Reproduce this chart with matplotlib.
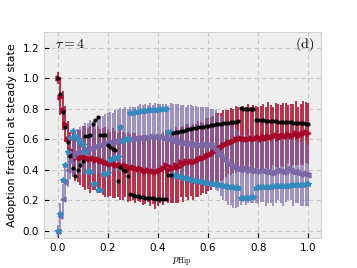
import numpy as np
import matplotlib
matplotlib.use('Agg')
import matplotlib.pyplot as plt

plt.style.use('bmh')
plt.rcParams['mathtext.fontset'] = 'cm'
plt.rcParams['grid.color'] = '#c8c8c8'
plt.rcParams['grid.linestyle'] = (0, (4, 3))
plt.rcParams['grid.linewidth'] = 0.8
plt.rcParams['axes.edgecolor'] = '#d0d0d0'

# p_Hip grid, 0.00 .. 1.00
p_hip = np.linspace(0, 1, 101)

black = [1.0, 0.90, 0.78, 0.68, 0.58, 0.49, 0.41, 0.36, 0.40, 0.43,
         0.46, 0.62, 0.62, 0.63, 0.70, 0.73, 0.745, 0.63, 0.63, 0.63,
         0.56, 0.55, 0.54, 0.53, 0.33, 0.42, 0.40, 0.39, 0.36, 0.24,
         0.235, 0.23, 0.228, 0.225, 0.22, 0.218, 0.216, 0.215, 0.213, 0.212,
         0.211, 0.21, 0.209, 0.208, 0.367, 0.367,
         0.640, 0.645, 0.649, 0.653, 0.657, 0.661, 0.665, 0.668, 0.672, 0.675,
         0.678, 0.681, 0.684, 0.687, 0.690, 0.693, 0.695, 0.698, 0.700, 0.703,
         0.705, 0.708, 0.710, 0.712, 0.715, 0.717, 0.719,
         0.805, 0.798, 0.797, 0.797, 0.798, 0.799,
         0.728, 0.727, 0.725, 0.724, 0.723, 0.722, 0.721, 0.720, 0.718, 0.717,
         0.716, 0.715, 0.714, 0.712, 0.711, 0.710, 0.709, 0.707, 0.706, 0.705,
         0.703, 0.702]

blue = [0.0, 0.11, 0.335, 0.43, 0.52, 0.61, 0.655, 0.62, 0.60, 0.585,
        0.56, 0.52, 0.39, 0.385, 0.31, 0.305, 0.27, 0.265, 0.375, 0.375,
        0.378, 0.466, 0.475, 0.48, 0.487, 0.684, 0.586, 0.60, 0.60,
        0.770, 0.775, 0.780, 0.782, 0.785, 0.787, 0.789, 0.790, 0.792, 0.793,
        0.794, 0.795, 0.796, 0.797, 0.798, 0.647, 0.645,
        0.367, 0.362, 0.357, 0.352, 0.348, 0.344, 0.340, 0.336, 0.332, 0.329,
        0.326, 0.322, 0.319, 0.316, 0.313, 0.310, 0.307, 0.304, 0.301, 0.298,
        0.295, 0.293, 0.290, 0.288, 0.285, 0.282, 0.280,
        0.215, 0.217, 0.218, 0.218, 0.219, 0.220,
        0.284, 0.285, 0.286, 0.287, 0.288, 0.289, 0.290, 0.291, 0.292, 0.293,
        0.294, 0.295, 0.296, 0.297, 0.298, 0.299, 0.300, 0.301, 0.302, 0.303,
        0.304, 0.305]

red = [1.0, 0.88, 0.79, 0.70, 0.60, 0.53, 0.50, 0.48, 0.49, 0.48,
       0.49, 0.48, 0.475, 0.47, 0.475, 0.465, 0.47, 0.46, 0.455, 0.45,
       0.445, 0.44, 0.445, 0.435, 0.43, 0.435, 0.425, 0.43, 0.42, 0.415,
       0.42, 0.41, 0.405, 0.41, 0.40, 0.395, 0.40, 0.39, 0.395, 0.385,
       0.39, 0.40, 0.41, 0.43, 0.40, 0.42, 0.41, 0.43, 0.42, 0.45,
       0.44, 0.46, 0.45, 0.46, 0.45, 0.46, 0.47, 0.475, 0.48, 0.49,
       0.50, 0.505, 0.52, 0.53, 0.545, 0.55, 0.565, 0.57, 0.58, 0.585,
       0.59, 0.60, 0.605, 0.61, 0.60, 0.605, 0.60, 0.61, 0.605, 0.61,
       0.615, 0.60, 0.62, 0.61, 0.625, 0.615, 0.62, 0.63, 0.61, 0.625,
       0.63, 0.62, 0.635, 0.625, 0.63, 0.64, 0.62, 0.635, 0.64, 0.645,
       0.64]

red_err = [0.04, 0.12, 0.13, 0.12, 0.12, 0.12, 0.14, 0.15, 0.17, 0.18,
           0.20, 0.21, 0.20, 0.22, 0.21, 0.20, 0.22, 0.21, 0.22, 0.23,
           0.22, 0.21, 0.23, 0.22, 0.21, 0.23, 0.22, 0.21, 0.23, 0.22,
           0.22, 0.23, 0.21, 0.22, 0.23, 0.22, 0.21, 0.23, 0.22, 0.24,
           0.23, 0.22, 0.24, 0.23, 0.22, 0.24, 0.23, 0.25, 0.24, 0.23,
           0.25, 0.24, 0.25, 0.23, 0.25, 0.24, 0.25, 0.24, 0.23, 0.25,
           0.24, 0.24, 0.23, 0.24, 0.23, 0.22, 0.23, 0.22, 0.21, 0.22,
           0.21, 0.22, 0.21, 0.20, 0.22, 0.21, 0.23, 0.20, 0.22, 0.21,
           0.20, 0.22, 0.21, 0.20, 0.22, 0.21, 0.19, 0.21, 0.22, 0.20,
           0.21, 0.22, 0.19, 0.21, 0.20, 0.21, 0.19, 0.20, 0.21, 0.20,
           0.20]

purple = [0.0, 0.10, 0.21, 0.32, 0.40, 0.46, 0.49, 0.51, 0.52, 0.52,
          0.53, 0.535, 0.54, 0.545, 0.55, 0.555, 0.56, 0.565, 0.57, 0.575,
          0.58, 0.58, 0.585, 0.59, 0.59, 0.595, 0.60, 0.60, 0.60, 0.605,
          0.605, 0.61, 0.61, 0.61, 0.615, 0.61, 0.615, 0.62, 0.615, 0.62,
          0.615, 0.62, 0.61, 0.62, 0.60, 0.61, 0.59, 0.60, 0.58, 0.585,
          0.575, 0.57, 0.575, 0.565, 0.57, 0.56, 0.565, 0.57, 0.565, 0.57,
          0.565, 0.56, 0.55, 0.53, 0.51, 0.49, 0.47, 0.455, 0.44, 0.43,
          0.42, 0.41, 0.405, 0.40, 0.41, 0.40, 0.405, 0.395, 0.40, 0.39,
          0.395, 0.40, 0.39, 0.385, 0.39, 0.38, 0.385, 0.39, 0.40, 0.395,
          0.385, 0.39, 0.41, 0.40, 0.385, 0.39, 0.38, 0.375, 0.38, 0.37,
          0.365]

purple_err = [0.04, 0.08, 0.10, 0.10, 0.11, 0.12, 0.14, 0.15, 0.15, 0.16,
              0.16, 0.17, 0.17, 0.18, 0.17, 0.18, 0.18, 0.19, 0.18, 0.19,
              0.19, 0.20, 0.19, 0.20, 0.20, 0.21, 0.20, 0.21, 0.20, 0.21,
              0.21, 0.20, 0.21, 0.22, 0.21, 0.22, 0.21, 0.22, 0.21, 0.22,
              0.22, 0.21, 0.22, 0.21, 0.22, 0.23, 0.24, 0.23, 0.25, 0.24,
              0.25, 0.24, 0.25, 0.26, 0.25, 0.26, 0.25, 0.24, 0.25, 0.24,
              0.25, 0.24, 0.25, 0.26, 0.25, 0.26, 0.27, 0.26, 0.27, 0.26,
              0.27, 0.26, 0.25, 0.23, 0.22, 0.23, 0.22, 0.21, 0.22, 0.21,
              0.22, 0.21, 0.20, 0.22, 0.21, 0.20, 0.22, 0.21, 0.20, 0.21,
              0.22, 0.20, 0.21, 0.20, 0.22, 0.21, 0.20, 0.21, 0.22, 0.21,
              0.20]

fig = plt.figure(figsize=(3.57, 2.68), dpi=100)
ax = fig.add_axes([0.123, 0.112, 0.776, 0.769])

c_red = '#A60628'
c_purple = '#7A68A6'
c_blue = '#348ABD'

ax.errorbar(p_hip, red, yerr=red_err, fmt='none', ecolor=c_red,
            elinewidth=1.2, alpha=0.95, zorder=2)
ax.errorbar(p_hip, purple, yerr=purple_err, fmt='none', ecolor=c_purple,
            elinewidth=1.2, alpha=0.8, zorder=3)
ax.plot(p_hip, red, ls='none', marker='>', ms=3.5, color=c_red, zorder=4)
ax.plot(p_hip, purple, ls='none', marker='<', ms=3.5, color=c_purple, zorder=4)
ax.plot(p_hip, blue, ls='none', marker='*', ms=4, color=c_blue, zorder=5)
ax.plot(p_hip, black, ls='none', marker='o', ms=2, color='black', zorder=6)

ax.set_xlim(-0.055, 1.05)
ax.set_ylim(-0.047, 1.305)
ax.set_xticks([0.0, 0.2, 0.4, 0.6, 0.8, 1.0])
ax.set_yticks([0.0, 0.2, 0.4, 0.6, 0.8, 1.0, 1.2])
ax.tick_params(labelsize=7.5, colors='black')
ax.set_xlabel(r'$p_{\rm Hip}$', fontsize=8, labelpad=2)
ax.set_ylabel('Adoption fraction at steady state', fontsize=8)
ax.text(0.094, 0.94, r'$\tau=4$', transform=ax.transAxes, fontsize=10,
        ha='center', va='center')
ax.text(0.94, 0.94, r'$\mathrm{(d)}$', transform=ax.transAxes, fontsize=10,
        ha='center', va='center')

fig.savefig('out.png', dpi=100)
